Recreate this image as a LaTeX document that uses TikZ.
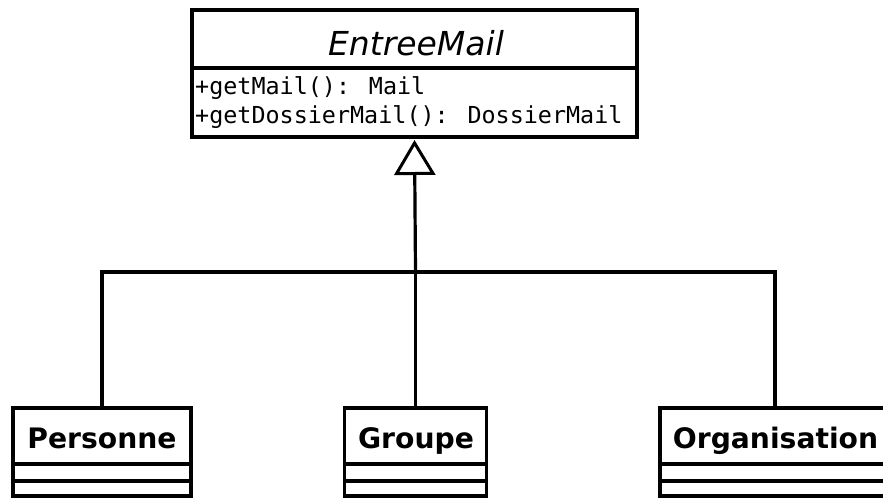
\documentclass[tikz,border=0pt]{standalone}
\usepackage{fontspec}
\setmainfont{DejaVu Sans}
\newfontfamily\umlmono{DejaVu Sans Mono}
\usetikzlibrary{arrows.meta}
\begin{document}
\begin{tikzpicture}[x=1pt,y=-1pt,
  box/.style={draw, line width=3.4pt, fill=white, inner sep=0pt, outer sep=0pt, anchor=north west},
  divider/.style={line width=2.6pt},
  link/.style={line width=3.2pt},
  abstractname/.style={font=\fontsize{33}{36}\selectfont\itshape, inner sep=0pt, anchor=base},
  classname/.style={font=\fontsize{28.2}{32}\selectfont\bfseries, inner sep=0pt, anchor=base},
  method/.style={font=\umlmono\fontsize{23.4}{28}\selectfont, inner sep=0pt, anchor=base west},
  inherit/.style={link, -{Triangle[open, length=35pt, width=41pt, line width=3pt]}}
]
\useasboundingbox[fill=white] (0,0) rectangle (883,498);

% abstract class EntreeMail
\node[box, minimum width=445pt, minimum height=58pt] (entreeT) at (192,10) {};
\node[box, minimum width=445pt, minimum height=69pt] (entreeM) at (192,68) {};
\draw[divider] (entreeT.south west) -- (entreeT.south east);
\node[abstractname] (entreeName) at (416,55) {EntreeMail};
\node[method] (m1) at (195,94) {+getMail(): Mail};
\node[method] (m2) at (195,123) {+getDossierMail(): DossierMail};

% concrete classes
\node[box, minimum width=178pt, minimum height=56pt] (personne) at (13,408) {};
\node[box, minimum width=178pt, minimum height=17pt] (personneA) at (13,464) {};
\node[box, minimum width=178pt, minimum height=15pt] (personneO) at (13,481) {};
\node[classname] (personneName) at (102,448) {Personne};

\node[box, minimum width=142pt, minimum height=56pt] (groupe) at (344.5,408) {};
\node[box, minimum width=142pt, minimum height=17pt] (groupeA) at (344.5,464) {};
\node[box, minimum width=142pt, minimum height=15pt] (groupeO) at (344.5,481) {};
\node[classname] (groupeName) at (416,448) {Groupe};

\node[box, minimum width=230pt, minimum height=56pt] (organisation) at (660,408) {};
\node[box, minimum width=230pt, minimum height=17pt] (organisationA) at (660,464) {};
\node[box, minimum width=230pt, minimum height=15pt] (organisationO) at (660,481) {};
\node[classname] (organisationName) at (775.5,448) {Organisation};

% generalisation links
\coordinate (joint) at (415.5,272);
\draw[link] (personne.north) |- (joint) -| (organisation.north);
\draw[link] (groupe.north) -- (joint);
\draw[inherit] (joint) -- ([yshift=-3pt]entreeM.south);
\end{tikzpicture}
\end{document}
